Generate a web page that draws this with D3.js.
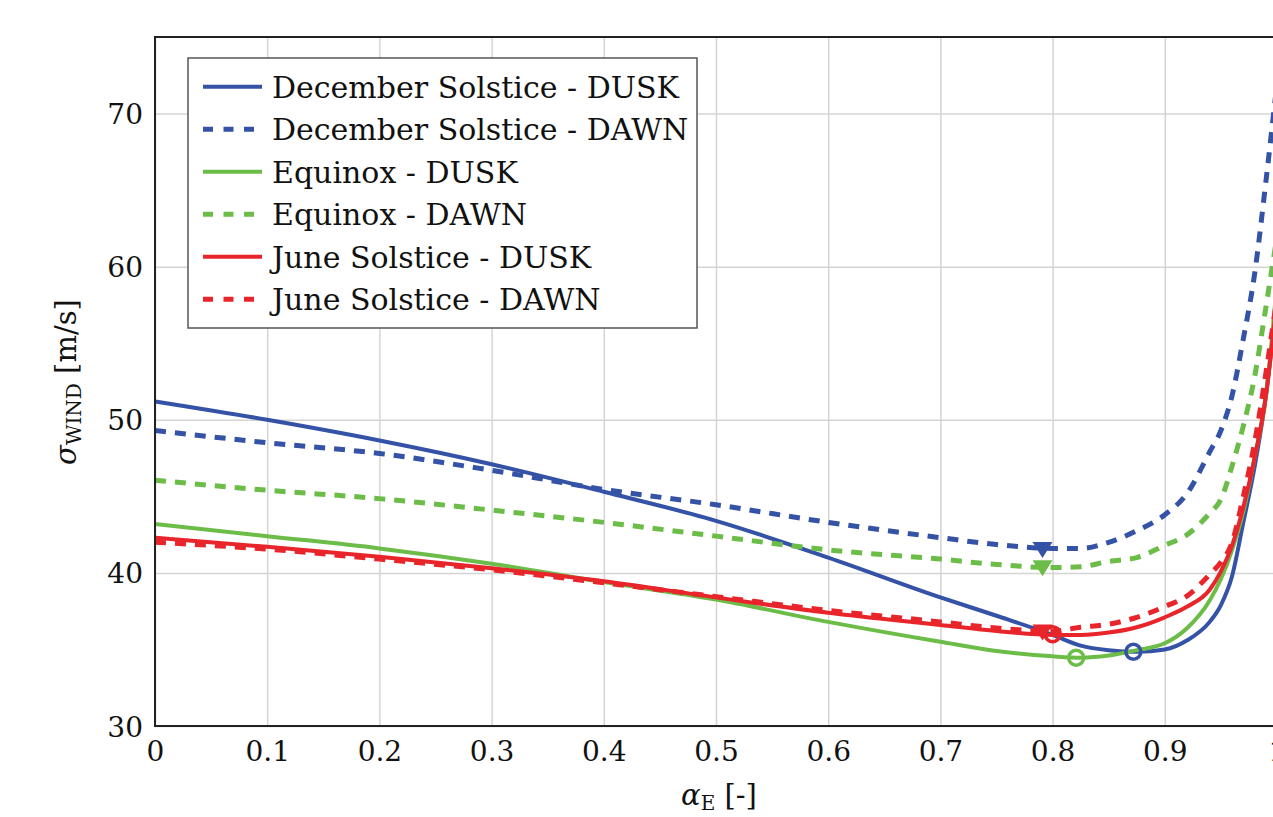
<html>
  <head>
    <meta charset="utf-8">
    <title>sigma wind vs alpha E</title>
    <script src="https://d3js.org/d3.v7.min.js"></script>
    <style type="text/css">
      body { margin: 0; overflow: hidden; background: #fff; }
      svg { display: block; font-family: "DejaVu Serif", serif; }
      .grid line { stroke: #d4d4d4; stroke-width: 1.5px; }
      .grid .domain { display: none; }
      .ticks .domain { display: none; }
      .ticks line { display: none; }
      .ticks text { font-size: 28px; fill: #111; font-family: "DejaVu Serif", serif; }
    </style>
  </head>
  <body>
    <div id="chart"></div>
  </body>
</html>
<script type="text/javascript">
  const width = 1273,
    height = 817,
    margin = {left: 155, top: 37, right: 1277, bottom: 726};

  // alpha_E sample points (x)
  const alpha = [0, 0.1, 0.2, 0.3, 0.4, 0.5, 0.6, 0.7, 0.75, 0.8, 0.825, 0.85, 0.875, 0.9, 0.92, 0.94, 0.95, 0.96, 0.97, 0.98, 0.99, 1.0];

  // sigma_WIND [m/s] per case
  const decDusk = [51.2, 50.0, 48.65, 47.1, 45.3, 43.4, 41.0, 38.4, 37.2, 35.95, 35.25, 34.95, 34.85, 35.0, 35.6, 36.8, 37.9, 39.8, 43.3, 46.9, 51.5, 58];
  const decDawn = [49.3, 48.5, 47.8, 46.7, 45.45, 44.45, 43.3, 42.3, 41.85, 41.6, 41.6, 42.0, 42.75, 43.8, 45.2, 47.9, 49.3, 51.6, 55.3, 59.5, 65.5, 72];
  const eqDusk = [43.2, 42.4, 41.6, 40.6, 39.4, 38.26, 36.8, 35.5, 34.9, 34.55, 34.46, 34.6, 34.95, 35.4, 36.4, 38.2, 39.6, 41.5, 44.0, 47.5, 51.5, 59];
  const eqDawn = [46.05, 45.4, 44.85, 44.1, 43.3, 42.4, 41.5, 40.9, 40.55, 40.35, 40.4, 40.75, 41.0, 41.8, 42.5, 43.9, 44.8, 47.0, 49.6, 52.8, 57.3, 62];
  const junDusk = [42.3, 41.7, 41.05, 40.3, 39.45, 38.4, 37.4, 36.6, 36.2, 35.95, 35.95, 36.1, 36.45, 37.1, 37.8, 38.9, 40.1, 41.8, 44.3, 47.5, 51.5, 58];
  const junDawn = [42.0, 41.55, 40.9, 40.2, 39.35, 38.45, 37.55, 36.8, 36.4, 36.2, 36.45, 36.65, 37.1, 37.8, 38.5, 39.9, 40.7, 42.0, 45.0, 48.5, 53.0, 58];

  // minimum markers
  const minAlpha = [0.872, 0.791, 0.821, 0.791, 0.80, 0.791];
  const minSigma = [34.85, 41.5, 34.46, 40.3, 36.0, 36.1];

  const names = ["December Solstice - DUSK", "December Solstice - DAWN", "Equinox - DUSK", "Equinox - DAWN", "June Solstice - DUSK", "June Solstice - DAWN"];
  const values = [decDusk, decDawn, eqDusk, eqDawn, junDusk, junDawn];
  const colors = ["#3452a6", "#3452a6", "#6cbd48", "#6cbd48", "#e8252b", "#e8252b"];
  const dashed = [false, true, false, true, false, true];
  const marker = ["circle", "triangle", "circle", "triangle", "circle", "triangle"];

  const xTicks = [0, 0.1, 0.2, 0.3, 0.4, 0.5, 0.6, 0.7, 0.8, 0.9, 1];
  const yTicks = [30, 40, 50, 60, 70];

  const x = d3.scaleLinear().domain([0, 1]).range([margin.left, margin.right]);
  const y = d3.scaleLinear().domain([30, 75]).range([margin.bottom, margin.top]);

  const svg = d3.select("#chart").append("svg")
    .attr("width", width)
    .attr("height", height);

  svg.append("rect").attr("width", width).attr("height", height).attr("fill", "#fff");

  // grid
  svg.append("g").attr("class", "grid")
    .attr("transform", "translate(0," + margin.bottom + ")")
    .call(d3.axisBottom(x).tickValues(xTicks).tickSize(-(margin.bottom - margin.top)).tickFormat(""));
  svg.append("g").attr("class", "grid")
    .attr("transform", "translate(" + margin.left + ",0)")
    .call(d3.axisLeft(y).tickValues(yTicks).tickSize(-(margin.right - margin.left)).tickFormat(""));

  // tick labels
  const xAxis = svg.append("g").attr("class", "ticks")
    .attr("transform", "translate(0," + margin.bottom + ")")
    .call(d3.axisBottom(x).tickValues(xTicks).tickFormat(d3.format("~g")));
  xAxis.selectAll("text").attr("y", 15).attr("dy", "0.71em");

  const yAxis = svg.append("g").attr("class", "ticks")
    .attr("transform", "translate(" + margin.left + ",0)")
    .call(d3.axisLeft(y).tickValues(yTicks));
  yAxis.selectAll("text").attr("x", -12).attr("dy", "0.36em");

  // curves
  const line = d3.line()
    .x(function(d) { return x(d[0]); })
    .y(function(d) { return y(d[1]); })
    .curve(d3.curveMonotoneX);

  const plot = svg.append("g");
  values.forEach(function(v, i) {
    plot.append("path")
      .datum(alpha.map(function(a, j) { return [a, v[j]]; }))
      .attr("d", line)
      .attr("fill", "none")
      .attr("stroke", colors[i])
      .attr("stroke-width", dashed[i] ? 5 : 4)
      .attr("stroke-dasharray", dashed[i] ? "11,9" : null);
  });

  // minima
  values.forEach(function(v, i) {
    const cx = x(minAlpha[i]), cy = y(minSigma[i]);
    if (marker[i] === "circle") {
      plot.append("circle")
        .attr("cx", cx).attr("cy", cy).attr("r", 7.5)
        .attr("fill", "none")
        .attr("stroke", colors[i])
        .attr("stroke-width", 3.5);
    } else {
      plot.append("path")
        .attr("d", "M" + (cx - 10) + "," + (cy - 8) + "L" + (cx + 10) + "," + (cy - 8) + "L" + cx + "," + (cy + 8) + "Z")
        .attr("fill", colors[i]);
    }
  });

  // frame
  svg.append("rect")
    .attr("x", margin.left).attr("y", margin.top)
    .attr("width", margin.right - margin.left)
    .attr("height", margin.bottom - margin.top)
    .attr("fill", "none")
    .attr("stroke", "#222")
    .attr("stroke-width", 2);

  // legend
  const legend = svg.append("g").attr("transform", "translate(188,58)");
  legend.append("rect")
    .attr("width", 509).attr("height", 270)
    .attr("fill", "#fff")
    .attr("stroke", "#555")
    .attr("stroke-width", 1.5);

  names.forEach(function(n, i) {
    const ry = 28.7 + i * 42.5;
    legend.append("line")
      .attr("x1", 15).attr("x2", 74)
      .attr("y1", ry).attr("y2", ry)
      .attr("stroke", colors[i])
      .attr("stroke-width", dashed[i] ? 5 : 4)
      .attr("stroke-dasharray", dashed[i] ? "10,10.5" : null);
    legend.append("text")
      .attr("x", 84).attr("y", ry).attr("dy", "0.36em")
      .attr("font-size", 30)
      .attr("fill", "#111")
      .text(n);
  });

  // axis labels
  const xl = svg.append("text")
    .attr("x", 719).attr("y", 805)
    .attr("text-anchor", "middle")
    .attr("font-size", 29)
    .attr("fill", "#111");
  xl.append("tspan").attr("font-style", "italic").text("α");
  xl.append("tspan").attr("font-size", 20).attr("dy", 5).text("E");
  xl.append("tspan").attr("dy", -5).text(" [-]");

  const yl = svg.append("text")
    .attr("transform", "translate(76,382) rotate(-90)")
    .attr("text-anchor", "middle")
    .attr("font-size", 29)
    .attr("fill", "#111");
  yl.append("tspan").attr("font-style", "italic").text("σ");
  yl.append("tspan").attr("font-size", 20).attr("dy", 5).text("WIND");
  yl.append("tspan").attr("dy", -5).text(" [m/s]");
</script>
